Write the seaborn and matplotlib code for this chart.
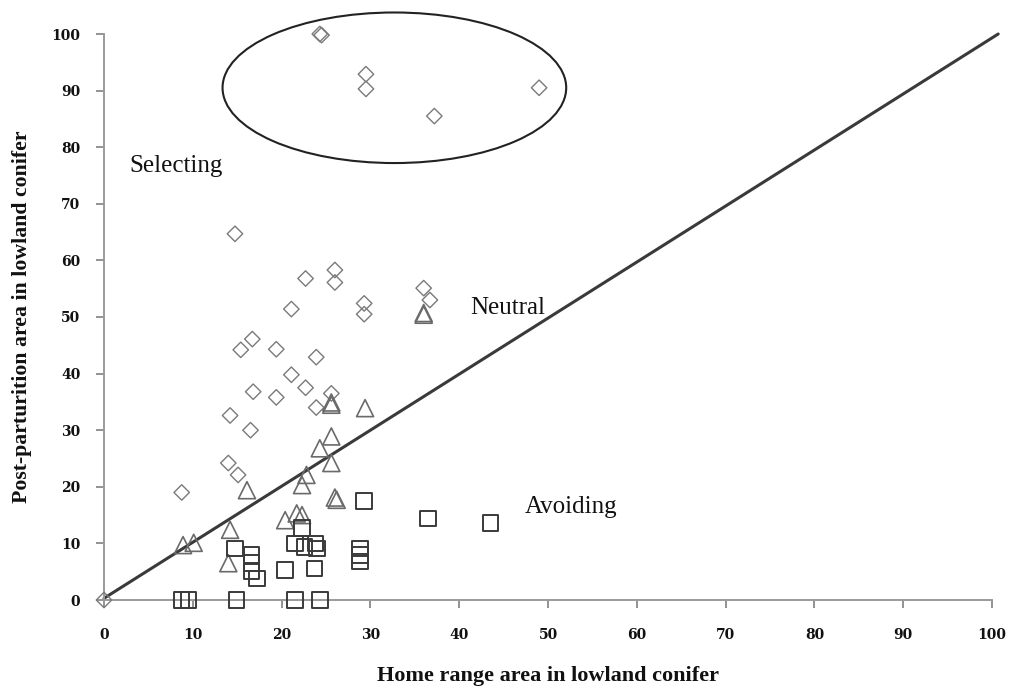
import matplotlib
matplotlib.use("Agg")
import matplotlib.pyplot as plt
from matplotlib.patches import Ellipse
import seaborn as sns
import pandas as pd

# ---- data ----
diamond_x = [24.3, 24.5, 29.5, 29.5, 37.2, 49.0, 14.75, 26.0, 26.0, 22.7, 21.1, 29.3, 29.3,
             36.0, 36.7, 16.7, 15.4, 19.4, 23.9, 21.1, 22.7, 16.8, 19.4, 25.6, 23.9, 14.2,
             16.5, 14.0, 15.1, 8.75, 0.0]
diamond_y = [100.0, 99.8, 92.9, 90.3, 85.5, 90.5, 64.7, 58.3, 56.1, 56.8, 51.4, 52.4, 50.5,
             55.1, 53.0, 46.1, 44.2, 44.3, 42.9, 39.8, 37.5, 36.8, 35.8, 36.5, 34.0, 32.6,
             30.0, 24.2, 22.1, 19.0, 0.0]

triangle_x = [36.0, 36.0, 25.6, 25.6, 29.4, 25.6, 24.3, 25.6, 22.8, 22.3, 16.1, 26.2, 26.0,
              20.4, 21.7, 22.3, 14.2, 8.9, 10.1, 14.0]
triangle_y = [50.4, 50.7, 34.5, 34.9, 33.9, 28.9, 26.8, 24.2, 22.1, 20.3, 19.4, 17.7, 18.1,
              14.1, 15.3, 15.0, 12.4, 9.7, 10.1, 6.5]

square_x = [29.3, 36.5, 43.5, 22.3, 14.75, 16.6, 16.6, 16.6, 17.2, 20.4, 21.5, 22.6, 23.8,
            24.0, 23.7, 28.8, 28.8, 28.8, 8.75, 9.5, 14.9, 21.5, 24.3]
square_y = [17.5, 14.4, 13.6, 12.7, 9.1, 7.95, 6.5, 5.0, 3.8, 5.3, 10.0, 9.4, 10.0,
            9.1, 5.6, 9.1, 7.95, 6.8, 0.0, 0.0, 0.0, 0.0, 0.0]

line_x = [0.0, 100.7]
line_y = [0.3, 100.0]

x_ticks = [0, 10, 20, 30, 40, 50, 60, 70, 80, 90, 100]
y_ticks = [0, 10, 20, 30, 40, 50, 60, 70, 80, 90, 100]

x_label = "Home range area in lowland conifer"
y_label = "Post-parturition area in lowland conifer"

# ---- style ----
sns.set_style("white")
plt.rcParams["font.family"] = ["Liberation Serif", "DejaVu Serif"]

fig = plt.figure(figsize=(10.15, 6.94), dpi=100)
ax = fig.add_axes([104 / 1015, 94 / 694, 888 / 1015, 566 / 694])

# diagonal neutral line
sns.lineplot(x=line_x, y=line_y, ax=ax, color="#3a3a3a", linewidth=2.2,
             estimator=None, sort=False, clip_on=False, zorder=2)

df_d = pd.DataFrame({"x": diamond_x, "y": diamond_y})
df_t = pd.DataFrame({"x": triangle_x, "y": triangle_y})
df_s = pd.DataFrame({"x": square_x, "y": square_y})

sns.scatterplot(data=df_d, x="x", y="y", ax=ax, marker="D", s=62,
                facecolor="none", edgecolor="#7a7a7a", linewidth=1.0,
                clip_on=False, zorder=3)
sns.scatterplot(data=df_t, x="x", y="y", ax=ax, marker="^", s=150,
                facecolor="none", edgecolor="#6a6a6a", linewidth=1.2,
                clip_on=False, zorder=3)
sns.scatterplot(data=df_s, x="x", y="y", ax=ax, marker="s", s=125,
                facecolor="none", edgecolor="#3a3a3a", linewidth=1.4,
                clip_on=False, zorder=3)

# ellipse around the high selectors
ax.add_patch(Ellipse((32.7, 90.5), 38.7, 26.6, fill=False, edgecolor="#222222",
                     linewidth=1.5, clip_on=False, zorder=4))

# region labels
txt_kw = dict(fontsize=18, color="#111111", va="center", ha="left",
              family=["Liberation Serif"])
ax.text(2.9, 76.7, "Selecting", **txt_kw)
ax.text(41.2, 51.6, "Neutral", **txt_kw)
ax.text(47.4, 16.4, "Avoiding", **txt_kw)

# axes
ax.set_xlim(0, 100)
ax.set_ylim(0, 100)
ax.set_xticks(x_ticks)
ax.set_yticks(y_ticks)
ax.set_xticklabels([str(v) for v in x_ticks])
ax.set_yticklabels([str(v) for v in y_ticks])
for lab in ax.get_xticklabels() + ax.get_yticklabels():
    lab.set_fontfamily("DejaVu Serif")
    lab.set_fontweight("bold")
    lab.set_fontsize(10)
    lab.set_color("#111111")

for side in ["top", "right"]:
    ax.spines[side].set_visible(False)
for side in ["left", "bottom"]:
    ax.spines[side].set_color("#9a9a9a")
    ax.spines[side].set_linewidth(1.4)

ax.tick_params(axis="both", which="major", direction="out", length=6, width=1.3,
               color="#8a8a8a", left=True, bottom=True)
ax.tick_params(axis="y", pad=11)
ax.tick_params(axis="x", pad=14)

ax.set_xlabel(x_label, fontsize=16, fontweight="bold", color="#111111",
              family=["Liberation Serif"])
ax.set_ylabel(y_label, fontsize=15.7, fontweight="bold", color="#111111",
              family=["Liberation Serif"])
ax.xaxis.set_label_coords(0.4995, -0.117)
ax.yaxis.set_label_coords(-0.081, 0.5)

fig.savefig("out.png", dpi=100)
